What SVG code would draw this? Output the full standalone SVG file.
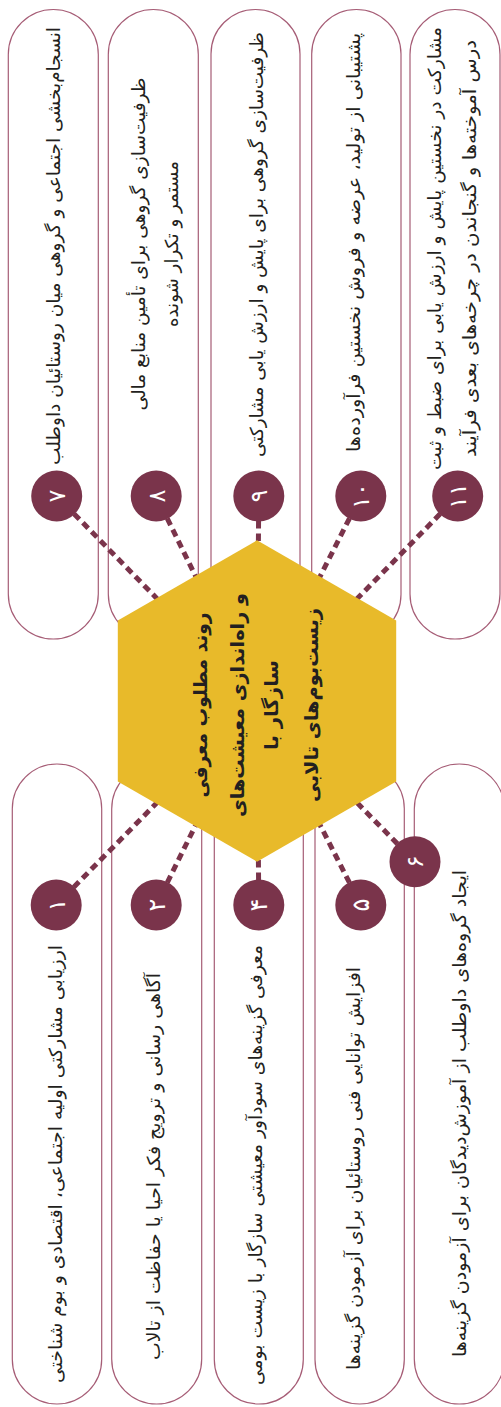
<svg xmlns="http://www.w3.org/2000/svg" width="501" height="1407" viewBox="0 0 501 1407">
<style>
.cap{fill:#ffffff;stroke:#a65d76;stroke-width:1.2}
.con{fill:none;stroke:#7a344b;stroke-width:5;stroke-dasharray:7.5 5}
.num{fill:#7a344b}
.hex{fill:#e8ba2a}
.t{font-family:'DejaVu Sans',sans-serif;font-size:18px;fill:#231f20;text-anchor:middle;direction:rtl}
.ti{font-family:'DejaVu Sans',sans-serif;font-size:19px;font-weight:bold;fill:#231f20;text-anchor:middle;direction:rtl}
.n{font-family:'DejaVu Sans',sans-serif;font-size:24px;fill:#ffffff;text-anchor:middle}
</style>
<rect x="0" y="0" width="501" height="1407" fill="#ffffff"/>
<g transform="matrix(0 -1 1 0 0 1407)">
<g id="capsules">
<rect id="cap7" class="cap" x="768" y="8.3" width="629.5" height="90" rx="45"/>
<rect id="cap8" class="cap" x="768" y="108.3" width="629.5" height="90" rx="45"/>
<rect id="cap9" class="cap" x="768" y="211" width="629.5" height="89" rx="44.5"/>
<rect id="cap10" class="cap" x="768" y="311.7" width="629.5" height="89.3" rx="44.6"/>
<rect id="cap11" class="cap" x="768" y="410" width="629.5" height="90" rx="45"/>
<rect id="cap1" class="cap" x="3" y="12.3" width="640" height="89.4" rx="44.7"/>
<rect id="cap2" class="cap" x="3" y="111.7" width="640" height="90" rx="45"/>
<rect id="cap4" class="cap" x="3" y="214.3" width="640" height="89" rx="44.5"/>
<rect id="cap5" class="cap" x="3" y="315" width="640" height="89.3" rx="44.6"/>
<rect id="cap6" class="cap" x="3" y="414.3" width="640" height="90" rx="45"/>
</g>
<g id="connectors">
<line class="con" x1="911" y1="56.7" x2="706" y2="257"/>
<line class="con" x1="911" y1="156.2" x2="706" y2="257"/>
<line class="con" x1="911" y1="258.8" x2="706" y2="257"/>
<line class="con" x1="911" y1="360.8" x2="706" y2="257"/>
<line class="con" x1="911" y1="457.7" x2="706" y2="257"/>
<line class="con" x1="502" y1="56.2" x2="706" y2="257"/>
<line class="con" x1="502" y1="156.2" x2="706" y2="257"/>
<line class="con" x1="502" y1="258.8" x2="706" y2="257"/>
<line class="con" x1="502" y1="360.8" x2="706" y2="257"/>
<line class="con" x1="545.3" y1="415" x2="706" y2="257"/>
</g>
<g id="center">
<polygon class="hex" points="866.7,257 786.4,396.2 625.6,396.2 545.3,257 625.6,117.8 786.4,117.8"/>
<text class="ti" x="702" y="207" textLength="185" lengthAdjust="spacingAndGlyphs">روند مطلوب معرفی</text>
<text class="ti" x="702" y="244" textLength="224" lengthAdjust="spacingAndGlyphs">و راه‌اندازی معیشت‌های</text>
<text class="ti" x="702" y="278" textLength="90" lengthAdjust="spacingAndGlyphs">سازگار با</text>
<text class="ti" x="702" y="318" textLength="194" lengthAdjust="spacingAndGlyphs">زیست‌بوم‌های تالابی</text>
</g>
<g id="node7">
<circle class="num" cx="911" cy="56.7" r="25.5"/>
<text class="n" x="911" y="65">۷</text>
<text class="t" x="1161" y="60" textLength="438" lengthAdjust="spacingAndGlyphs">انسجام‌بخشی اجتماعی و گروهی میان روستائیان داوطلب</text>
</g>
<g id="node8">
<circle class="num" cx="911" cy="156.2" r="25.5"/>
<text class="n" x="911" y="164.5">۸</text>
<text class="t" x="1163" y="145" textLength="333" lengthAdjust="spacingAndGlyphs">ظرفیت‌سازی گروهی برای تأمین منابع مالی</text>
<text class="t" x="1163" y="178" textLength="166" lengthAdjust="spacingAndGlyphs">مستمر و تکرار شونده</text>
</g>
<g id="node9">
<circle class="num" cx="911" cy="258.8" r="25.5"/>
<text class="n" x="911" y="267">۹</text>
<text class="t" x="1162.5" y="263" textLength="425" lengthAdjust="spacingAndGlyphs">ظرفیت‌سازی گروهی برای پایش و ارزش یابی مشارکتی</text>
</g>
<g id="node10">
<circle class="num" cx="911" cy="360.8" r="25.5"/>
<text class="n" x="911" y="369">۱۰</text>
<text class="t" x="1164.5" y="360" textLength="419" lengthAdjust="spacingAndGlyphs">پشتیبانی از تولید، عرضه و فروش نخستین فرآورده‌ها</text>
</g>
<g id="node11">
<circle class="num" cx="911" cy="457.7" r="25.5"/>
<text class="n" x="911" y="466">۱۱</text>
<text class="t" x="1158.5" y="441" textLength="443" lengthAdjust="spacingAndGlyphs">مشارکت در نخستین پایش و ارزش یابی برای ضبط و ثبت</text>
<text class="t" x="1158.5" y="476" textLength="417" lengthAdjust="spacingAndGlyphs">درس آموخته‌ها و گنجاندن در چرخه‌های بعدی فرآیند</text>
</g>
<g id="node1">
<circle class="num" cx="502" cy="56.2" r="25.5"/>
<text class="n" x="502" y="64.5">۱</text>
<text class="t" x="243" y="62" textLength="438" lengthAdjust="spacingAndGlyphs">ارزیابی مشارکتی اولیه اجتماعی، اقتصادی و بوم شناختی</text>
</g>
<g id="node2">
<circle class="num" cx="502" cy="156.2" r="25.5"/>
<text class="n" x="502" y="164.5">۲</text>
<text class="t" x="240.5" y="160" textLength="387" lengthAdjust="spacingAndGlyphs">آگاهی رسانی و ترویج فکر احیا یا حفاظت از تالاب</text>
</g>
<g id="node4">
<circle class="num" cx="502" cy="258.8" r="25.5"/>
<text class="n" x="502" y="267">۴</text>
<text class="t" x="242" y="262" textLength="440" lengthAdjust="spacingAndGlyphs">معرفی گزینه‌های سودآور معیشتی سازگار با زیست بومی</text>
</g>
<g id="node5">
<circle class="num" cx="502" cy="360.8" r="25.5"/>
<text class="n" x="502" y="369">۵</text>
<text class="t" x="238.5" y="360" textLength="403" lengthAdjust="spacingAndGlyphs">افزایش توانایی فنی روستائیان برای آزمودن گزینه‌ها</text>
</g>
<g id="node6">
<circle class="num" cx="545.3" cy="415" r="25.5"/>
<text class="n" x="545.3" y="423">۶</text>
<text class="t" x="293.5" y="466" textLength="487" lengthAdjust="spacingAndGlyphs">ایجاد گروه‌های داوطلب از آموزش‌دیدگان برای آزمودن گزینه‌ها</text>
</g>
</g>
</svg>
